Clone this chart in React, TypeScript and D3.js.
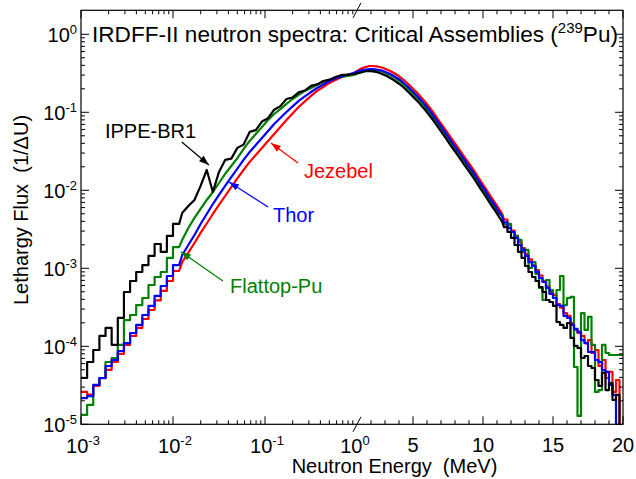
import React from "react";
import * as d3 from "d3";

// ---------- DATA ----------
// Group boundaries (MeV): 15 per decade from 1 keV to 1 MeV, then 0.25 MeV steps to 20 MeV
const energyEdges: number[] = [
  0.001, 0.001166, 0.001359, 0.001585, 0.001848, 0.002154, 0.002512, 0.002929, 0.003415, 0.003981,
  0.004642, 0.005412, 0.00631, 0.007356, 0.008577,
  0.01, 0.01166, 0.01359, 0.01585, 0.01848, 0.02154, 0.02512, 0.02929, 0.03415, 0.03981,
  0.04642, 0.05412, 0.0631, 0.07356, 0.08577,
  0.1, 0.1166, 0.1359, 0.1585, 0.1848, 0.2154, 0.2512, 0.2929, 0.3415, 0.3981,
  0.4642, 0.5412, 0.631, 0.7356, 0.8577,
  1.0,
  1.25, 1.5, 1.75, 2.0, 2.25, 2.5, 2.75, 3.0, 3.25, 3.5, 3.75, 4.0, 4.25, 4.5, 4.75, 5.0,
  5.25, 5.5, 5.75, 6.0, 6.25, 6.5, 6.75, 7.0, 7.25, 7.5, 7.75, 8.0, 8.25, 8.5, 8.75, 9.0,
  9.25, 9.5, 9.75, 10.0, 10.25, 10.5, 10.75, 11.0, 11.25, 11.5, 11.75, 12.0, 12.25, 12.5, 12.75, 13.0,
  13.25, 13.5, 13.75, 14.0, 14.25, 14.5, 14.75, 15.0, 15.25, 15.5, 15.75, 16.0, 16.25, 16.5, 16.75, 17.0,
  17.25, 17.5, 17.75, 18.0, 18.25, 18.5, 18.75, 19.0, 19.25, 19.5, 19.75, 20.0,
];

// Lethargy flux per group (1/ΔU)
const jezebel: number[] = [
  2.6e-5, 2.4e-5, 3.1e-5, 3.9e-5, 5.0e-5, 6.3e-5, 8.0e-5, 1.04e-4, 1.36e-4, 1.72e-4,
  2.24e-4, 2.92e-4, 3.87e-4, 5.12e-4, 6.87e-4, 9.23e-4, 1.2e-3, 1.59e-3, 2.11e-3, 2.84e-3,
  3.75e-3, 4.97e-3, 6.48e-3, 8.45e-3, 0.011, 0.0142, 0.0182, 0.0231, 0.0284, 0.0349,
  0.0429, 0.0527, 0.0648, 0.0797, 0.0966, 0.117, 0.138, 0.162, 0.188, 0.211,
  0.238, 0.259, 0.284, 0.301, 0.319,
  0.348, 0.37, 0.381, 0.392, 0.392, 0.387, 0.381, 0.37, 0.354, 0.338,
  0.319, 0.301, 0.279, 0.256, 0.234, 0.211, 0.19, 0.172, 0.153, 0.136,
  0.119, 0.104, 0.0897, 0.0773, 0.0668, 0.0576, 0.0497, 0.0429, 0.037, 0.0319,
  0.0275, 0.0238, 0.0205, 0.0177, 0.015, 0.0128, 0.011, 9.37e-3, 7.97e-3, 6.87e-3,
  5.85e-3, 4.97e-3, 4.22e-3, 3.59e-3,
  3.05e-3, 2.6e-3, 2.17e-3, 1.82e-3, 1.52e-3, 1.3e-3, 1.1e-3, 9.51e-4, 8.09e-4, 6.87e-4,
  5.85e-4, 4.97e-4, 4.55e-4, 3.48e-4, 3.14e-4, 2.67e-4, 2.45e-4, 1.99e-4, 1.62e-4, 1.48e-4,
  1.36e-4, 1.1e-4, 1.2e-4, 8.2e-5, 8.97e-5, 5.59e-5, 6.67e-5, 3.92e-5, 4.69e-5, 2.6e-5,
  3.7e-5, 6e-6,
];

const thor: number[] = [
  2.17e-5, 2.3e-5, 3.2e-5, 3.92e-5, 5.59e-5, 6.67e-5, 8.71e-5, 1.1e-4, 1.48e-4, 1.88e-4,
  2.52e-4, 3.29e-4, 4.42e-4, 5.93e-4, 7.96e-4, 1.1e-3, 1.48e-3, 1.99e-3, 2.67e-3, 3.7e-3,
  4.97e-3, 6.67e-3, 8.71e-3, 0.0114, 0.0148, 0.019, 0.0245, 0.031, 0.0381, 0.0468,
  0.0576, 0.0708, 0.0845, 0.101, 0.119, 0.14, 0.16, 0.182, 0.205, 0.227,
  0.252, 0.271, 0.288, 0.305, 0.319,
  0.338, 0.348, 0.354, 0.359, 0.359, 0.354, 0.348, 0.338, 0.324, 0.31,
  0.292, 0.275, 0.256, 0.234, 0.214, 0.193, 0.174, 0.157, 0.14, 0.124,
  0.109, 0.0951, 0.082, 0.0708, 0.0611, 0.0527, 0.0455, 0.0392, 0.0338, 0.0292,
  0.0252, 0.0217, 0.0188, 0.0162, 0.0138, 0.0117, 0.0101, 8.58e-3, 7.29e-3, 6.29e-3,
  5.35e-3, 4.55e-3, 3.87e-3, 3.29e-3,
  2.92e-3, 2.45e-3, 1.99e-3, 1.72e-3, 1.44e-3, 1.2e-3, 1.07e-3, 8.97e-4, 7.51e-4, 6.67e-4,
  5.59e-4, 4.69e-4, 4.16e-4, 3.38e-4, 3.29e-4, 2.45e-4, 2.31e-4, 1.88e-4, 1.67e-4, 1.53e-4,
  1.2e-4, 1.1e-4, 8.45e-5, 8.45e-5, 6.67e-5, 6.29e-5, 4.97e-5, 4.69e-5, 3.19e-5, 2.38e-5,
  6e-6, 6e-6,
];

const flattopPu: number[] = [
  1.32e-5, 1.77e-5, 3.19e-5, 3.92e-5, 6.29e-5, 7.08e-5, 1.04e-4, 2.17e-4, 2.52e-4, 3.38e-4,
  4.16e-4, 6.11e-4, 7.73e-4, 8.97e-4, 1.36e-3, 1.87e-3, 2.31e-3, 3.29e-3, 4.42e-3, 5.76e-3,
  7.51e-3, 9.51e-3, 0.0124, 0.0162, 0.0205, 0.0259, 0.0338, 0.0429, 0.0527, 0.0648,
  0.0797, 0.0951, 0.11, 0.128, 0.148, 0.167, 0.188, 0.205, 0.224, 0.245,
  0.259, 0.275, 0.284, 0.292, 0.301,
  0.319, 0.329, 0.338, 0.348, 0.348, 0.343, 0.338, 0.329, 0.314, 0.301,
  0.284, 0.263, 0.245, 0.224, 0.202, 0.182, 0.164, 0.148, 0.132, 0.117,
  0.102, 0.0897, 0.0773, 0.0668, 0.0576, 0.0497, 0.0429, 0.037, 0.0319, 0.0275,
  0.0238, 0.0205, 0.0177, 0.0153, 0.013, 0.011, 9.51e-3, 8.09e-3, 6.87e-3, 5.93e-3,
  5.04e-3, 4.82e-3, 3.65e-3, 3.7e-3,
  2.92e-3, 2.6e-3, 2.31e-3, 1.62e-3, 1.72e-3, 1.01e-3, 1.2e-3, 8.45e-4, 5.59e-4, 3.92e-4,
  7.08e-4, 5.27e-4, 4.16e-4, 5.27e-4, 7.96e-4, 3.38e-4, 4.16e-4, 4.29e-4, 5.43e-5, 1.28e-5,
  2.67e-4, 1.62e-4, 2.38e-4, 1.04e-4, 2.6e-5, 2.75e-5, 1.04e-4, 8.2e-5, 7.73e-5, 7.73e-5,
  7.73e-5, 7.73e-5,
];

const ippeBr1: number[] = [
  3.92e-5, 6.29e-5, 8.97e-5, 1.36e-4, 1.72e-4, 1.04e-4, 2.31e-4, 4.97e-4, 6.87e-4, 8.97e-4,
  1.1e-3, 1.44e-3, 2.05e-3, 1.62e-3, 2.6e-3, 3.7e-3, 5.12e-3, 6.29e-3, 7.51e-3, 0.0114,
  0.0182, 9.51e-3, 0.0172, 0.0245, 0.0255, 0.035, 0.0385, 0.056, 0.059, 0.076,
  0.084, 0.108, 0.12, 0.148, 0.155, 0.18, 0.19, 0.218, 0.228, 0.252,
  0.262, 0.284, 0.301, 0.301, 0.31,
  0.319, 0.329, 0.338, 0.338, 0.334, 0.329, 0.319, 0.305, 0.292, 0.275,
  0.259, 0.241, 0.224, 0.205, 0.185, 0.167, 0.15, 0.136, 0.12, 0.107,
  0.0937, 0.082, 0.0708, 0.0611, 0.0527, 0.0455, 0.0392, 0.0338, 0.0292, 0.0252,
  0.0217, 0.0188, 0.0162, 0.014, 0.0119, 0.0101, 8.71e-3, 7.4e-3, 6.29e-3, 5.43e-3,
  4.62e-3, 3.92e-3, 3.38e-3, 2.92e-3,
  2.45e-3, 1.99e-3, 1.62e-3, 1.36e-3, 1.07e-3, 8.97e-4, 7.73e-4, 6.87e-4, 5.76e-4, 4.97e-4,
  3.92e-4, 3.7e-4, 3.29e-4, 2.05e-4, 1.88e-4, 1.72e-4, 1.99e-4, 1.28e-4, 1.01e-4, 9.51e-5,
  7.08e-5, 7.51e-5, 5.59e-5, 5.27e-5, 3.7e-5, 3.1e-5, 4.55e-5, 2.75e-5, 3.38e-5, 2.05e-5,
  2.38e-5, 6e-6,
];

const seriesNames = ["Jezebel", "Flattop-Pu", "Thor", "IPPE-BR1"];
const seriesValues = [jezebel, flattopPu, thor, ippeBr1];
const seriesColors = ["#ff0000", "#008000", "#0000ff", "#000000"];

const yTickValues = [1e-5, 1e-4, 1e-3, 1e-2, 1e-1, 1];
const yTickExponents = ["-5", "-4", "-3", "-2", "-1", "0"];
const xLogTickValues = [0.001, 0.01, 0.1, 1];
const xLogTickExponents = ["-3", "-2", "-1", "0"];
const xLinTickValues = [5, 10, 15, 20];

// annotation anchors in data units (energy MeV, flux)
const annotations = [
  { label: "IPPE-BR1", color: "#000000", textE: 0.00182, textF: 0.0469, fromE: 0.01245, fromF: 0.0416, toE: 0.0246, toF: 0.0211 },
  { label: "Jezebel", color: "#ff0000", textE: 0.2655, textF: 0.0144, fromE: 0.2286, fromF: 0.0224, toE: 0.116, toF: 0.0404 },
  { label: "Thor", color: "#0000ff", textE: 0.122, textF: 0.00396, fromE: 0.108, fromF: 0.0061, toE: 0.0406, toF: 0.0128 },
  { label: "Flattop-Pu", color: "#008000", textE: 0.0417, textF: 0.000482, fromE: 0.0349, fromF: 0.000687, toE: 0.0122, toF: 0.00163 },
];

// ---------- LAYOUT ----------
const W = 636;
const H = 479;
const L = 81;
const R = 623;
const T = 10.3;
const B = 424.3;
const XB = 357; // axis break at 1 MeV
const FONT = "'Liberation Sans', Arial, Helvetica, sans-serif";

const xLog = d3.scaleLog().domain([1e-3, 1]).range([L, XB]);
const xLin = d3.scaleLinear().domain([1, 20]).range([XB, R]);
const xPos = (e: number) => (e <= 1 ? xLog(e) : xLin(e));
const yScale = d3.scaleLog().domain([1e-5, 2.03]).range([B, T]);

const lineGen = d3
  .line<[number, number]>()
  .x((d) => xPos(d[0]))
  .y((d) => yScale(Math.max(d[1], 1e-6)))
  .curve(d3.curveLinear);

// histogram drawn as steps where the spectrum is coarse/noisy, joined through group centres elsewhere
function seriesPath(values: number[]) {
  const pts: [number, number][] = [];
  for (let i = 0; i < values.length; i++) {
    const e0 = energyEdges[i];
    const e1 = energyEdges[i + 1];
    const smooth = e0 >= 0.0116 && e1 <= 11.5;
    if (smooth) {
      const c = e1 <= 1 ? Math.sqrt(e0 * e1) : (e0 + e1) / 2;
      pts.push([c, values[i]]);
    } else {
      pts.push([e0, values[i]], [e1, values[i]]);
    }
  }
  return lineGen(pts) || "";
}

// ticks
const yMinor: number[] = [];
for (let d = -5; d <= 0; d++) for (let m = 2; m <= 9; m++) { const v = m * Math.pow(10, d); if (v < 1.9) yMinor.push(v); }
const xLogMinor: number[] = [];
for (let d = -3; d <= -1; d++) for (let m = 2; m <= 9; m++) xLogMinor.push(m * Math.pow(10, d));
const xLinMinor: number[] = d3.range(2, 20).filter((v) => v % 5 !== 0);

export default function App() {
  const MAJ = 8;
  const MIN = 4;
  const tickStyle = { stroke: "#000", strokeWidth: 1 };

  const xTicks: { x: number; len: number }[] = [];
  xLogTickValues.slice(0, 3).forEach((v) => xTicks.push({ x: xLog(v), len: MAJ }));
  xLogMinor.forEach((v) => xTicks.push({ x: xLog(v), len: MIN }));
  xLinTickValues.forEach((v) => xTicks.push({ x: xLin(v), len: MAJ }));
  xLinMinor.forEach((v) => xTicks.push({ x: xLin(v), len: MIN }));

  const yTicks: { y: number; len: number }[] = [];
  yTickValues.forEach((v) => yTicks.push({ y: yScale(v), len: MAJ }));
  yMinor.forEach((v) => yTicks.push({ y: yScale(v), len: MIN }));

  const arrowHead = (x1: number, y1: number, x2: number, y2: number) => {
    const ang = Math.atan2(y2 - y1, x2 - x1);
    const len = 10, hw = 3.5;
    const bx = x2 - len * Math.cos(ang), by = y2 - len * Math.sin(ang);
    const px = -Math.sin(ang) * hw, py = Math.cos(ang) * hw;
    return `${x2},${y2} ${bx + px},${by + py} ${bx - px},${by - py}`;
  };

  return (
    <svg
      width={W}
      height={H}
      viewBox={`0 0 ${W} ${H}`}
      style={{ position: "absolute", left: 0, top: 0, background: "#fff" }}
      fontFamily={FONT}
    >
      <rect x={0} y={0} width={W} height={H} fill="#fff" />
      <defs>
        <clipPath id="plotClip">
          <rect x={L} y={T} width={R - L} height={B - T} />
        </clipPath>
      </defs>

      {/* series */}
      <g clipPath="url(#plotClip)" fill="none">
        {seriesValues.map((vals, i) => (
          <path key={seriesNames[i]} d={seriesPath(vals)} stroke={seriesColors[i]} strokeWidth={2.2} strokeLinejoin="round" />
        ))}
      </g>

      {/* frame */}
      <rect x={L} y={T} width={R - L} height={B - T} fill="none" stroke="#000" strokeWidth={1.2} />

      {/* x ticks bottom & top */}
      {xTicks.map((t, i) => (
        <g key={"xt" + i}>
          <line x1={t.x} x2={t.x} y1={B} y2={B - t.len} {...tickStyle} />
          <line x1={t.x} x2={t.x} y1={T} y2={T + t.len} {...tickStyle} />
        </g>
      ))}
      {/* y ticks left & right */}
      {yTicks.map((t, i) => (
        <g key={"yt" + i}>
          <line x1={L} x2={L + t.len} y1={t.y} y2={t.y} {...tickStyle} />
          <line x1={R} x2={R - t.len} y1={t.y} y2={t.y} {...tickStyle} />
        </g>
      ))}

      {/* axis break marks */}
      <line x1={XB - 4} y1={B + 7.5} x2={XB + 4} y2={B - 7.5} stroke="#000" strokeWidth={1} />
      <line x1={XB - 4} y1={T + 7.5} x2={XB + 4} y2={T - 7.5} stroke="#000" strokeWidth={1} />

      {/* y tick labels */}
      {yTickValues.map((v, i) => (
        <text key={"yl" + i} x={77} y={yScale(v) + 7.4} textAnchor="end" fontSize={20} fill="#000">
          <tspan>10</tspan>
          <tspan dy={-8} fontSize={13}>{yTickExponents[i]}</tspan>
        </text>
      ))}

      {/* x tick labels */}
      {xLogTickValues.map((v, i) => (
        <text key={"xl" + i} x={xLog(v) + (i === 3 ? -2 : 2)} y={453} textAnchor="middle" fontSize={20} fill="#000">
          <tspan>10</tspan>
          <tspan dy={-8} fontSize={13}>{xLogTickExponents[i]}</tspan>
        </text>
      ))}
      {xLinTickValues.map((v) => (
        <text key={"xll" + v} x={xLin(v)} y={452} textAnchor="middle" fontSize={20} fill="#000">
          {v}
        </text>
      ))}

      {/* axis titles */}
      <text x={394.5} y={473} textAnchor="middle" fontSize={20} fill="#000" style={{ whiteSpace: "pre" }}>
        {"Neutron Energy  (MeV)"}
      </text>
      <text
        transform="translate(28,210) rotate(-90)"
        textAnchor="middle"
        fontSize={20}
        fill="#000"
        style={{ whiteSpace: "pre" }}
      >
        {"Lethargy Flux  (1/\u0394U)"}
      </text>

      {/* title */}
      <text x={92} y={41.5} fontSize={22.6} fill="#000">
        <tspan>IRDFF-II neutron spectra: Critical Assemblies (</tspan>
        <tspan dy={-8.5} fontSize={15}>239</tspan>
        <tspan dy={8.5}>Pu)</tspan>
      </text>

      {/* annotations */}
      {annotations.map((a) => {
        const x1 = xPos(a.fromE), y1 = yScale(a.fromF);
        const x2 = xPos(a.toE), y2 = yScale(a.toF);
        return (
          <g key={a.label}>
            <line x1={x1} y1={y1} x2={x2} y2={y2} stroke={a.color} strokeWidth={1.2} />
            <polygon points={arrowHead(x1, y1, x2, y2)} fill={a.color} />
            <text x={xPos(a.textE)} y={yScale(a.textF)} fontSize={20} fill={a.color}>
              {a.label}
            </text>
          </g>
        );
      })}
    </svg>
  );
}
